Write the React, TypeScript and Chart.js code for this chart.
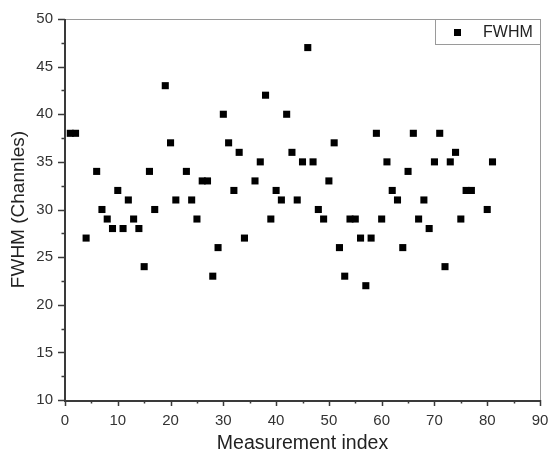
import React, { useEffect, useRef } from "react";
import { Chart, registerables } from "chart.js";

Chart.register(...registerables);

const xIndex = [1, 2, 4, 6, 7, 8, 9, 10, 11, 12, 13, 14, 15, 16, 17, 19, 20, 21, 23, 24, 25, 26, 27, 28, 29, 30,
  31, 32, 33, 34, 36, 37, 38, 39, 40, 41, 42, 43, 44, 45, 46, 47, 48, 49, 50, 51, 52, 53, 54, 55,
  56, 57, 58, 59, 60, 61, 62, 63, 64, 65, 66, 67, 68, 69, 70, 71, 72, 73, 74, 75, 76, 77, 80, 81];
const fwhm = [38, 38, 27, 34, 30, 29, 28, 32, 28, 31, 29, 28, 24, 34, 30, 43, 37, 31, 34, 31, 29, 33, 33, 23, 26, 40,
  37, 32, 36, 27, 33, 35, 42, 29, 32, 31, 40, 36, 31, 35, 47, 35, 30, 29, 33, 37, 26, 23, 29, 29,
  27, 22, 27, 38, 29, 35, 32, 31, 26, 34, 38, 29, 31, 28, 35, 38, 24, 35, 36, 29, 32, 32, 30, 35];

const seriesLabel = "FWHM";
const xTitle = "Measurement index";
const yTitle = "FWHM (Channles)";

const FONT = "'Liberation Sans', Arial, sans-serif";

const framePlugin = {
  id: "frame",
  afterDraw(chart: any) {
    const { ctx, chartArea } = chart;
    const { left, right, top, bottom } = chartArea;
    const xs = chart.scales.x;
    const ys = chart.scales.y;
    ctx.save();
    // top & right frame
    ctx.strokeStyle = "#9a9a9a";
    ctx.lineWidth = 1;
    ctx.beginPath();
    ctx.moveTo(left, top + 0.5);
    ctx.lineTo(right + 0.5, top + 0.5);
    ctx.lineTo(right + 0.5, bottom);
    ctx.stroke();
    // ticks
    ctx.strokeStyle = "#3a3a3a";
    ctx.lineWidth = 1.5;
    ctx.beginPath();
    for (let v = 0; v <= 90; v += 5) {
      const px = Math.round(xs.getPixelForValue(v)) + 0.5;
      const len = v % 10 === 0 ? 6 : 3.5;
      ctx.moveTo(px, bottom);
      ctx.lineTo(px, bottom + len);
    }
    for (let v = 10; v <= 50; v += 2.5) {
      const py = Math.round(ys.getPixelForValue(v)) + 0.5;
      const len = v % 5 === 0 ? 7 : 3.5;
      ctx.moveTo(left, py);
      ctx.lineTo(left - len, py);
    }
    ctx.stroke();
    // left & bottom axis
    ctx.lineWidth = 2;
    ctx.beginPath();
    ctx.moveTo(left, top);
    ctx.lineTo(left, bottom + 1);
    ctx.lineTo(right + 1, bottom + 1);
    ctx.stroke();
    // legend
    const bw = 105, bh = 25;
    const bx = right - bw, by = top;
    ctx.strokeStyle = "#9a9a9a";
    ctx.lineWidth = 1;
    ctx.strokeRect(bx + 0.5, by + 0.5, bw, bh);
    ctx.fillStyle = "#000";
    ctx.fillRect(bx + 19, by + 10, 7, 7);
    ctx.fillStyle = "#222";
    ctx.font = `16px ${FONT}`;
    ctx.textBaseline = "middle";
    ctx.textAlign = "left";
    ctx.fillText(seriesLabel, bx + 48, by + 13.5);
    ctx.restore();
  },
};

export default function App() {
  const ref = useRef<HTMLCanvasElement>(null);
  useEffect(() => {
    document.body.style.margin = "0";
    const data = xIndex.map((x, i) => ({ x, y: fwhm[i] }));
    const chart = new Chart(ref.current!, {
      type: "scatter",
      data: {
        datasets: [
          {
            label: seriesLabel,
            data,
            pointStyle: "rect",
            pointRadius: 5,
            pointHoverRadius: 5,
            backgroundColor: "#000",
            borderColor: "#000",
            borderWidth: 0,
          },
        ],
      },
      options: {
        animation: false,
        responsive: false,
        events: [],
        layout: { padding: { top: 19, right: 10, left: 0, bottom: 0 } },
        plugins: { legend: { display: false }, tooltip: { enabled: false } },
        scales: {
          x: {
            type: "linear",
            min: 0,
            max: 90,
            afterFit: (s: any) => { s.height = 61; s.paddingLeft = 0; s.paddingRight = 0; },
            grid: { display: false, drawTicks: false },
            border: { display: false },
            ticks: { stepSize: 10, padding: 12, color: "#333", font: { family: FONT, size: 15 }, maxRotation: 0 },
            title: { display: true, text: xTitle, color: "#222", font: { family: FONT, size: 19.5 }, padding: { top: 0, bottom: 6 } },
          },
          y: {
            type: "linear",
            min: 10,
            max: 50,
            afterFit: (s: any) => { s.width = 65; s.paddingTop = 0; s.paddingBottom = 0; },
            grid: { display: false, drawTicks: false },
            border: { display: false },
            ticks: { stepSize: 5, padding: 12, color: "#333", font: { family: FONT, size: 15 } },
            title: { display: true, text: yTitle, color: "#222", font: { family: FONT, size: 19 }, padding: { top: 7, bottom: 0 } },
          },
        },
      },
      plugins: [framePlugin],
    });
    return () => chart.destroy();
  }, []);
  return (
    <div style={{ width: 550, height: 461, background: "#fff" }}>
      <canvas ref={ref} width={550} height={461} style={{ display: "block" }} />
    </div>
  );
}
